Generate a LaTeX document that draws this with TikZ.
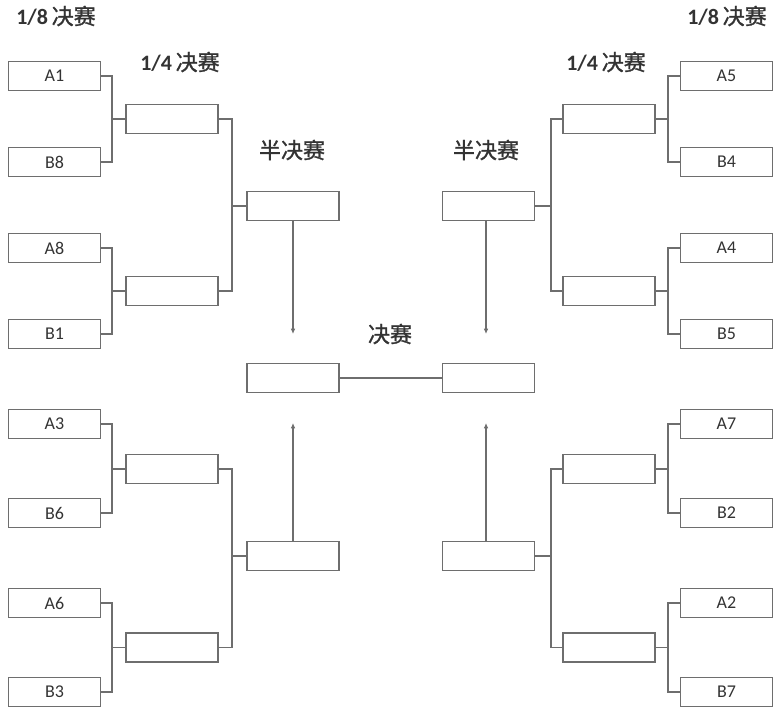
\documentclass[tikz,border=0pt]{standalone}
\usepackage{fontspec}
\setmainfont{Carlito}
\newfontfamily\cjk{Noto Sans CJK SC}[FakeBold=1.2]
\usetikzlibrary{arrows.meta}
\definecolor{linegray}{HTML}{6E6E6E}
\definecolor{textgray}{HTML}{333333}
\tikzset{
  team/.style={draw=linegray, line width=1.1pt, minimum width=69pt, minimum height=22pt,
    inner sep=0pt, font=\fontsize{13.5}{13.5}\selectfont, text=textgray},
  slot/.style={team},
  link/.style={draw=linegray, line width=0.9pt},
  feed/.style={link, -{Latex[length=4pt,width=3.5pt]}},
  stage/.style={font=\fontsize{16.5}{16.5}\selectfont, text=textgray, inner sep=0pt},
}
\newcommand{\stg}[2]{{\bfseries #1}\,{\cjk #2}}
\begin{document}
\begin{tikzpicture}[x=0.75pt,y=-0.75pt]
\useasboundingbox (0,0) rectangle (781,718);

% round headings
\node[stage] (h8l) at (56,16) {\stg{1/8}{决赛}};
\node[stage] (h4l) at (180,62) {\stg{1/4}{决赛}};
\node[stage] (h8r) at (727,16) {\stg{1/8}{决赛}};
\node[stage] (h4r) at (606,62) {\stg{1/4}{决赛}};
\node[stage] (hsl) at (292,150) {\cjk 半决赛};
\node[stage] (hsr) at (486,150) {\cjk 半决赛};
\node[stage] (hf) at (390,334) {\cjk 决赛};

% left round of 16
\node[team] (A1) at (54.5,76) {A1};
\node[team] (B8) at (54.5,162) {B8};
\node[team] (A8) at (54.5,248) {A8};
\node[team] (B1) at (54.5,334) {B1};
\node[team] (A3) at (54.5,424) {A3};
\node[team] (B6) at (54.5,513) {B6};
\node[team] (A6) at (54.5,603) {A6};
\node[team] (B3) at (54.5,692) {B3};
% right round of 16
\node[team] (A5) at (726.5,76) {A5};
\node[team] (B4) at (726.5,162) {B4};
\node[team] (A4) at (726.5,248) {A4};
\node[team] (B5) at (726.5,334) {B5};
\node[team] (A7) at (726.5,424) {A7};
\node[team] (B2) at (726.5,513) {B2};
\node[team] (A2) at (726.5,603) {A2};
\node[team] (B7) at (726.5,692) {B7};

% quarter-final slots
\node[slot] (QL1) at (172,119) {};
\node[slot] (QL2) at (172,291) {};
\node[slot] (QL3) at (172,469) {};
\node[slot] (QL4) at (172,647.5) {};
\node[slot] (QR1) at (609,119) {};
\node[slot] (QR2) at (609,291) {};
\node[slot] (QR3) at (609,469) {};
\node[slot] (QR4) at (609,647.5) {};

% semi-final slots
\node[slot] (SL1) at (293,206) {};
\node[slot] (SL2) at (293,556) {};
\node[slot] (SR1) at (488.5,206) {};
\node[slot] (SR2) at (488.5,556) {};

% final slots
\node[slot] (FL) at (293,378) {};
\node[slot] (FR) at (488.5,378) {};

% bracket junctions
\coordinate (jl1) at (112,119);
\coordinate (jl2) at (112,291);
\coordinate (jl3) at (112,469);
\coordinate (jl4) at (112,647.5);
\coordinate (jr1) at (668,119);
\coordinate (jr2) at (668,291);
\coordinate (jr3) at (668,469);
\coordinate (jr4) at (668,647.5);
\coordinate (kl1) at (232,206);
\coordinate (kl2) at (232,556);
\coordinate (kr1) at (551,206);
\coordinate (kr2) at (551,556);

% round of 16 -> quarter-finals
\draw[link] (A1.east) -| (jl1) |- (B8.east);  \draw[link] (jl1) -- (QL1.west);
\draw[link] (A8.east) -| (jl2) |- (B1.east);  \draw[link] (jl2) -- (QL2.west);
\draw[link] (A3.east) -| (jl3) |- (B6.east);  \draw[link] (jl3) -- (QL3.west);
\draw[link] (A6.east) -| (jl4) |- (B3.east);  \draw[link] (jl4) -- (QL4.west);
\draw[link] (A5.west) -| (jr1) |- (B4.west);  \draw[link] (jr1) -- (QR1.east);
\draw[link] (A4.west) -| (jr2) |- (B5.west);  \draw[link] (jr2) -- (QR2.east);
\draw[link] (A7.west) -| (jr3) |- (B2.west);  \draw[link] (jr3) -- (QR3.east);
\draw[link] (A2.west) -| (jr4) |- (B7.west);  \draw[link] (jr4) -- (QR4.east);

% quarter-finals -> semi-finals
\draw[link] (QL1.east) -| (kl1) |- (QL2.east); \draw[link] (kl1) -- (SL1.west);
\draw[link] (QL3.east) -| (kl2) |- (QL4.east); \draw[link] (kl2) -- (SL2.west);
\draw[link] (QR1.west) -| (kr1) |- (QR2.west); \draw[link] (kr1) -- (SR1.east);
\draw[link] (QR3.west) -| (kr2) |- (QR4.west); \draw[link] (kr2) -- (SR2.east);

% semi-finals -> final
\coordinate (tl1) at (293,334);
\coordinate (tr1) at (486,334);
\coordinate (tl2) at (293,423);
\coordinate (tr2) at (486,423);
\draw[feed] (SL1.south) -- (tl1);
\draw[feed] (SR1.south -| tr1) -- (tr1);
\draw[feed] (SL2.north) -- (tl2);
\draw[feed] (SR2.north -| tr2) -- (tr2);
\draw[link] (FL.east) -- (FR.west);
\end{tikzpicture}
\end{document}
